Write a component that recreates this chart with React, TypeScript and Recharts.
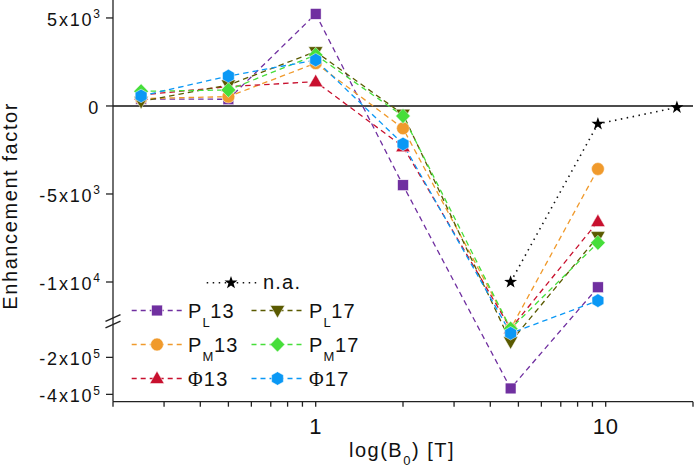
import React from 'react';
import { LineChart, Line, XAxis, YAxis, ReferenceLine, ReferenceDot, Legend } from 'recharts';

// ---------- data ----------
const B0 = [0.25, 0.5, 1, 2, 4.7, 9.4];
const PL13 = [400, 380, 5230, -4500, -368000, -10300];
const PM13 = [420, 530, 2430, -1270, -45000, -3580];
const PHI13 = [620, 1100, 1380, -2310, -45000, -6570];
const PL17 = [260, 1190, 3085, -470, -116000, -7420];
const PM17 = [830, 910, 2900, -570, -45000, -7770];
const PHI17 = [570, 1700, 2610, -2160, -70000, -11060];
const NA_B0 = [4.7, 9.4, 17.6];
const NA = [-10000, -1020, -80];

const Y_TICK_VALUES = [5000, 0, -5000, -10000, -200000, -400000];
const Y_TICK_MANT = ['5x10', '0', '-5x10', '-1x10', '-2x10', '-4x10'];
const Y_TICK_EXP = ['3', '', '3', '4', '5', '5'];
const X_TICKS = [0.2, 0.3, 0.4, 0.5, 0.6, 0.7, 0.8, 0.9, 1, 2, 3, 4, 5, 6, 7, 8, 9, 10, 20];
const X_LABELED = [1, 10];

// ---------- broken-axis transform ----------
const LOWER_LIMIT = -15000;
const UPPER_UNIT = 1000;
const LOWER_OFFSET = -12.18;
const LOWER_UNIT = 95150;
const toAxis = (v: number) => (v >= LOWER_LIMIT ? v / UPPER_UNIT : LOWER_OFFSET + v / LOWER_UNIT);
const Y_DOMAIN: [number, number] = [-16.8, 6.02];
const BREAK_AT = -12.23;
const Y_TICKS = Y_TICK_VALUES.map(toAxis);

const FONT = '"Liberation Sans", Arial, Helvetica, sans-serif';

type Shape = 'square' | 'circle' | 'triangle' | 'triangleDown' | 'diamond' | 'hexagon' | 'star';

const SERIES = [
  { key: 'PL13', main: 'P', sub: 'L', tail: '13', values: PL13, color: '#7030A0', shape: 'square' as Shape },
  { key: 'PM13', main: 'P', sub: 'M', tail: '13', values: PM13, color: '#F09A2C', shape: 'circle' as Shape },
  { key: 'PHI13', main: 'Φ', sub: '', tail: '13', values: PHI13, color: '#C8102E', shape: 'triangle' as Shape },
  { key: 'PL17', main: 'P', sub: 'L', tail: '17', values: PL17, color: '#5A5A00', shape: 'triangleDown' as Shape },
  { key: 'PM17', main: 'P', sub: 'M', tail: '17', values: PM17, color: '#46DE3A', shape: 'diamond' as Shape },
  { key: 'PHI17', main: 'Φ', sub: '', tail: '17', values: PHI17, color: '#0A98F5', shape: 'hexagon' as Shape },
];

function Marker({ shape, cx, cy, color }: { shape: Shape; cx: number; cy: number; color: string }) {
  const common = { fill: color, stroke: '#ffffff', strokeWidth: 0.5 };
  switch (shape) {
    case 'square':
      return <rect x={cx - 5.4} y={cy - 5.4} width={10.8} height={10.8} {...common} />;
    case 'circle':
      return <circle cx={cx} cy={cy} r={6.4} {...common} />;
    case 'triangle':
      return <polygon points={`${cx},${cy - 7.5} ${cx + 7.2},${cy + 5} ${cx - 7.2},${cy + 5}`} {...common} />;
    case 'triangleDown':
      return <polygon points={`${cx - 7.2},${cy - 5} ${cx + 7.2},${cy - 5} ${cx},${cy + 7.5}`} {...common} />;
    case 'diamond':
      return <polygon points={`${cx},${cy - 7.5} ${cx + 7.3},${cy} ${cx},${cy + 7.5} ${cx - 7.3},${cy}`} {...common} />;
    case 'hexagon': {
      const r = 6.8;
      const pts = [-90, -30, 30, 90, 150, 210]
        .map((a) => `${cx + r * Math.cos((a * Math.PI) / 180)},${cy + r * Math.sin((a * Math.PI) / 180)}`)
        .join(' ');
      return <polygon points={pts} {...common} />;
    }
    case 'star': {
      const pts: string[] = [];
      for (let i = 0; i < 10; i++) {
        const r = i % 2 === 0 ? 6.8 : 2.7;
        const a = ((-90 + i * 36) * Math.PI) / 180;
        pts.push(`${cx + r * Math.cos(a)},${cy + r * Math.sin(a)}`);
      }
      return <polygon points={pts.join(' ')} fill={color} />;
    }
  }
  return null;
}

const dotRenderer = (shape: Shape, color: string) => (props: any) => {
  const { cx, cy, index } = props;
  if (cx == null || cy == null) return <g key={`e-${index}`} />;
  return (
    <g key={`m-${index}`}>
      <Marker shape={shape} cx={cx} cy={cy} color={color} />
    </g>
  );
};

function YTick(props: any) {
  const { x, y, index } = props;
  const mant = Y_TICK_MANT[index];
  const exp = Y_TICK_EXP[index];
  return (
    <text x={x} y={y + 8} textAnchor="end" fontSize={18} fontFamily={FONT} fill="#111" letterSpacing={1.8}>
      <tspan>{mant}</tspan>
      {exp ? (
        <tspan dy={-7.5} fontSize={12} letterSpacing={0}>
          {exp}
        </tspan>
      ) : null}
    </text>
  );
}

function XTick(props: any) {
  const { x, y, payload } = props;
  if (!X_LABELED.includes(payload.value)) return <g />;
  return (
    <text x={x} y={y + 25} textAnchor="middle" fontSize={22} fontFamily={FONT} fill="#111" letterSpacing={0.8}>
      {String(payload.value)}
    </text>
  );
}

function BreakMark(props: any) {
  const { cx, cy } = props;
  return (
    <g>
      <line x1={cx - 7.5} y1={cy + 0.1} x2={cx + 7.5} y2={cy - 6.6} stroke="#222" strokeWidth={1.4} />
      <line x1={cx - 7.5} y1={cy + 6.7} x2={cx + 7.5} y2={cy - 0.1} stroke="#222" strokeWidth={1.4} />
    </g>
  );
}

function YTitle(props: any) {
  const { viewBox } = props;
  const cx = viewBox.x + 17;
  const cy = viewBox.y + viewBox.height / 2 + 5;
  return (
    <text
      x={cx}
      y={cy}
      transform={`rotate(-90, ${cx}, ${cy})`}
      textAnchor="middle"
      fontSize={20}
      fontFamily={FONT}
      fill="#111"
      letterSpacing={1.6}
    >
      Enhancement factor
    </text>
  );
}

function XTitle(props: any) {
  const { viewBox } = props;
  const cx = viewBox.x + viewBox.width / 2 - 1;
  const cy = viewBox.y + 55;
  return (
    <text x={cx} y={cy} textAnchor="middle" fontSize={20} fontFamily={FONT} fill="#111" letterSpacing={1.5}>
      <tspan>log(B</tspan>
      <tspan fontSize={13} dy={8}>0</tspan>
      <tspan dy={-8}>) [T]</tspan>
    </text>
  );
}

function LegendLabel({ x, y, main, sub, tail }: { x: number; y: number; main: string; sub: string; tail: string }) {
  const isPhi = main === 'Φ';
  return (
    <text x={x} y={y} fontSize={20} fontFamily={FONT} fill="#111" letterSpacing={1.2}>
      <tspan fontFamily={isPhi ? '"Liberation Serif", "Times New Roman", serif' : FONT}>{main}</tspan>
      {sub ? (
        <tspan fontSize={13} dy={9} letterSpacing={0.5}>
          {sub}
        </tspan>
      ) : null}
      <tspan dy={sub ? -9 : 0}>{tail}</tspan>
    </text>
  );
}

const LEGEND_COLS = [
  { lineX1: 131.7, lineX2: 182.7, markX: 157, textX: 188 },
  { lineX1: 251.5, lineX2: 302, markX: 277.5, textX: 309 },
];
const LEGEND_ROWS = [310.5, 344.5, 378.5];

function LegendContent() {
  const items = SERIES.map((s, i) => {
    const col = LEGEND_COLS[Math.floor(i / 3)];
    const row = LEGEND_ROWS[i % 3];
    return (
      <g key={s.key}>
        <line x1={col.lineX1} y1={row} x2={col.lineX2} y2={row} stroke={s.color} strokeWidth={1.4} strokeDasharray="5 4" />
        <Marker shape={s.shape} cx={col.markX} cy={row} color={s.color} />
        <LegendLabel x={col.textX} y={row + 7} main={s.main} sub={s.sub} tail={s.tail} />
      </g>
    );
  });
  return (
    <div style={{ width: 0, height: 0, position: 'relative', overflow: 'visible' }}>
      <svg width={700} height={469} style={{ position: 'absolute', left: 0, top: 0, overflow: 'visible', pointerEvents: 'none' }}>
        <g>
          <line x1={206.7} y1={282.7} x2={256.7} y2={282.7} stroke="#111" strokeWidth={1.6} strokeDasharray="1.5 4.5" />
          <Marker shape="star" cx={231} cy={282.7} color="#000" />
          <text x={263} y={289} fontSize={20} fontFamily={FONT} fill="#111" letterSpacing={1.2}>
            n.a.
          </text>
        </g>
        {items}
      </svg>
    </div>
  );
}

export default function App() {
  return (
    <div style={{ position: 'absolute', left: 0, top: 0, width: 700, height: 469, background: '#fff' }}>
      <LineChart width={700} height={469} margin={{ top: 0, right: 7, bottom: 0, left: 0 }} style={{ fontFamily: FONT }}>
        <XAxis
          dataKey="x"
          type="number"
          scale="log"
          domain={[0.2, 20]}
          allowDataOverflow
          ticks={X_TICKS}
          interval={0}
          tickSize={5}
          tick={<XTick />}
          height={67.3}
          stroke="#222"
          strokeWidth={1.3}
          label={<XTitle />}
        />
        <YAxis
          type="number"
          domain={Y_DOMAIN}
          allowDataOverflow
          ticks={Y_TICKS}
          interval={0}
          tickSize={7}
          tickMargin={6}
          width={113}
          tick={<YTick />}
          stroke="#222"
          strokeWidth={1.3}
          label={<YTitle />}
        />
        <ReferenceLine y={0} stroke="#111" strokeWidth={1.5} />
        <ReferenceDot x={0.2} y={BREAK_AT} r={0} ifOverflow="visible" shape={<BreakMark />} />
        <Line
          data={NA_B0.map((x, i) => ({ x, y: toAxis(NA[i]) }))}
          dataKey="y"
          name="n.a."
          type="linear"
          stroke="#111"
          strokeWidth={1.6}
          strokeDasharray="1.5 4.5"
          dot={dotRenderer('star', '#000')}
          activeDot={false}
          isAnimationActive={false}
        />
        {SERIES.map((s) => (
          <Line
            key={s.key}
            data={B0.map((x, i) => ({ x, y: toAxis(s.values[i]) }))}
            dataKey="y"
            name={s.key}
            type="linear"
            stroke={s.color}
            strokeWidth={1.3}
            strokeDasharray="5.5 4"
            dot={dotRenderer(s.shape, s.color)}
            activeDot={false}
            isAnimationActive={false}
          />
        ))}
        <Legend content={<LegendContent />} wrapperStyle={{ left: 0, top: 0, width: 0, height: 0 }} />
      </LineChart>
    </div>
  );
}
